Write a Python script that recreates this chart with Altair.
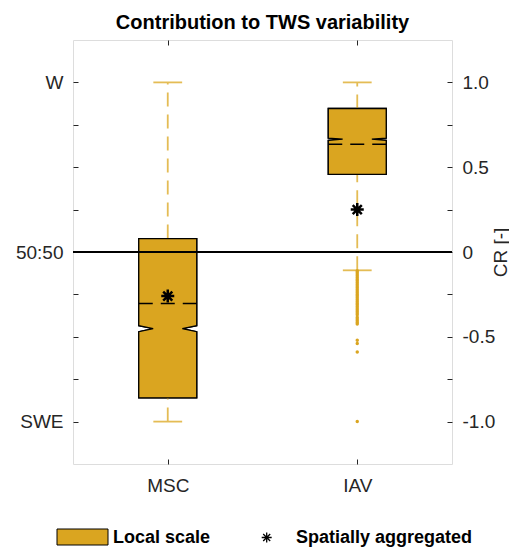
import altair as alt
import pandas as pd

# ---------------- data ----------------
categories = ["MSC", "IAV"]
positions = [1, 2]
q1 = [-0.860, 0.458]
q3 = [0.079, 0.846]
medians = [-0.452, 0.665]
notch_lo = [-0.470, 0.658]
notch_hi = [-0.434, 0.672]
means = [-0.303, 0.635]
whisker_lo = [-1.0, -0.108]
whisker_hi = [1.0, 1.0]
aggregated = [-0.26, 0.25]
outliers_iav = [-0.11, -0.12, -0.13, -0.14, -0.15, -0.16, -0.17, -0.18, -0.19, -0.20,
                -0.21, -0.22, -0.23, -0.24, -0.25, -0.26, -0.27, -0.28, -0.29, -0.30,
                -0.31, -0.32, -0.33, -0.34, -0.35, -0.36, -0.37,
                -0.385, -0.395, -0.405, -0.415, -0.425,
                -0.52, -0.54, -0.59, -1.0]

y_ticks = [-1.0, -0.75, -0.5, -0.25, 0.0, 0.25, 0.5, 0.75, 1.0]
left_labels = {1.0: "W", 0.0: "50:50", -1.0: "SWE"}
right_labels = {1.0: "1.0", 0.5: "0.5", 0.0: "0", -0.5: "-0.5", -1.0: "-1.0"}
legend_labels = ["Local scale", "Spatially aggregated"]
title_text = "Contribution to TWS variability"
y_title = "CR [-]"

# ---------------- style ----------------
GOLD = "#DAA520"
WHISK = "#E4BC55"
AXC = "#262626"
FONT = "Liberation Sans"
BOX_HW = 0.153
NOTCH_HW = 0.077
CAP_HW = 0.076
W, H = 379, 424
ASTER = "M-1,0L1,0M0,-1L0,1M-0.7,-0.7L0.7,0.7M-0.7,0.7L0.7,-0.7"
NEG_TICK = alt.ExprRef(expr="-5")


def label_expr(mapping):
    parts = []
    for v, t in mapping.items():
        parts.append(f"abs(datum.value - ({v})) < 1e-6 ? '{t}' : ")
    return "".join(parts) + "''"


cat_expr = "".join(f"datum.value == {p} ? '{c}' : " for p, c in zip(positions, categories)) + "''"

xscale = alt.Scale(domain=[0.5, 2.5], nice=False, zero=False)
yscale = alt.Scale(domain=[-1.25, 1.25], nice=False, zero=False)

# ---------------- tables ----------------
box_rows = []
for i, c in enumerate(categories):
    for yv, hw in [(q1[i], BOX_HW), (notch_lo[i], BOX_HW), (medians[i], NOTCH_HW),
                   (notch_hi[i], BOX_HW), (q3[i], BOX_HW)]:
        box_rows.append({"cat": c, "y": yv, "xl": positions[i] - hw, "xr": positions[i] + hw})
box_df = pd.DataFrame(box_rows)

stats = pd.DataFrame({
    "cat": categories, "pos": positions, "q1": q1, "q3": q3, "mean": means,
    "wlo": whisker_lo, "whi": whisker_hi, "agg": aggregated,
})
stats["bl"] = stats["pos"] - BOX_HW
stats["br"] = stats["pos"] + BOX_HW
stats["cl"] = stats["pos"] - CAP_HW
stats["cr"] = stats["pos"] + CAP_HW

caps = pd.concat([
    stats[["pos", "cl", "cr"]].assign(y=stats["wlo"]),
    stats[["pos", "cl", "cr"]].assign(y=stats["whi"]),
])
whisk = pd.concat([
    stats[["pos"]].assign(y=stats["q3"], y2=stats["whi"]),
    stats[["pos"]].assign(y=stats["wlo"], y2=stats["q1"]),
])
out_df = pd.DataFrame({"pos": positions[1], "y": outliers_iav})
zero_df = pd.DataFrame({"x0": [0.5], "x1": [2.5], "y": [0.0]})

# ---------------- axes ----------------
bottom_axis = alt.Axis(orient="bottom", values=positions, labelExpr=cat_expr, title=None,
                       tickSize=NEG_TICK, labelPadding=17, labelAngle=0, domain=False,
                       labelFontSize=19, labelFont=FONT, labelColor=AXC, tickColor=AXC, grid=False)
left_axis = alt.Axis(orient="left", values=y_ticks, labelExpr=label_expr(left_labels), title=None,
                     tickSize=NEG_TICK, labelPadding=15, domain=False,
                     labelFontSize=19, labelFont=FONT, labelColor=AXC, tickColor=AXC, grid=False)
top_axis = alt.Axis(orient="top", values=positions, labels=False, title=None,
                    tickSize=NEG_TICK, domain=False, tickColor=AXC, grid=False)
right_axis = alt.Axis(orient="right", values=y_ticks, labelExpr=label_expr(right_labels),
                      title=y_title, tickSize=NEG_TICK, labelPadding=15, domain=False,
                      labelFontSize=19, labelFont=FONT, labelColor=AXC, tickColor=AXC, grid=False,
                      titleFontSize=19, titleFont=FONT, titleFontWeight="normal", titleColor=AXC,
                      titleAngle=270, titleX=54, titleY=212, titleAlign="center",
                      titleBaseline="alphabetic")

# ---------------- layers ----------------
boxes = alt.Chart(box_df).mark_area(orient="horizontal", fill=GOLD, stroke="black",
                                    strokeWidth=1.3, interpolate="linear", opacity=1).encode(
    y=alt.Y("y:Q", scale=yscale, axis=left_axis),
    x=alt.X("xl:Q", scale=xscale, axis=bottom_axis, stack=None),
    x2="xr:Q",
    detail="cat:N",
)

whiskers = alt.Chart(whisk).mark_rule(color=WHISK, strokeWidth=1.8, strokeDash=[14, 8]).encode(
    x=alt.X("pos:Q", axis=None), y=alt.Y("y:Q", axis=None), y2="y2:Q")

cap_rules = alt.Chart(caps).mark_rule(color=WHISK, strokeWidth=1.8).encode(
    x=alt.X("cl:Q", axis=None), x2="cr:Q", y=alt.Y("y:Q", axis=None))

outliers = alt.Chart(out_df).mark_circle(color=GOLD, size=12, opacity=1).encode(
    x=alt.X("pos:Q", axis=None), y=alt.Y("y:Q", axis=None))

mean_rules = alt.Chart(stats).mark_rule(color="black", strokeWidth=1.5, strokeDash=[14, 8]).encode(
    x=alt.X("bl:Q", axis=None), x2="br:Q", y=alt.Y("mean:Q", axis=None))

zero_line = alt.Chart(zero_df).mark_rule(color="black", strokeWidth=2).encode(
    x=alt.X("x0:Q", axis=top_axis), x2="x1:Q", y=alt.Y("y:Q", axis=right_axis))

aster = alt.Chart(stats).mark_point(shape=ASTER, size=169, color="black", filled=False,
                                   strokeWidth=2.5, opacity=1).encode(
    x=alt.X("pos:Q", axis=None), y=alt.Y("agg:Q", axis=None))

# ---------------- legend (below the axes) ----------------
leg_df = pd.DataFrame({"label": legend_labels})
leg_swatch = alt.Chart(leg_df.iloc[[0]]).mark_rect(fill=GOLD, stroke="black", strokeWidth=1).encode(
    x=alt.value(-16), x2=alt.value(35), y=alt.value(489), y2=alt.value(505))
leg_text1 = alt.Chart(leg_df.iloc[[0]]).mark_text(align="left", baseline="alphabetic", font=FONT,
                                                  fontSize=18, fontWeight="bold", color="black").encode(
    x=alt.value(40), y=alt.value(503), text="label:N")
leg_aster = alt.Chart(leg_df.iloc[[1]]).mark_point(shape=ASTER, size=100, color="black", filled=False,
                                                   strokeWidth=1.3, opacity=1).encode(
    x=alt.value(193.7), y=alt.value(497.5))
leg_text2 = alt.Chart(leg_df.iloc[[1]]).mark_text(align="left", baseline="alphabetic", font=FONT,
                                                  fontSize=18, fontWeight="bold", color="black").encode(
    x=alt.value(223), y=alt.value(503), text="label:N")

chart = alt.layer(
    boxes, whiskers, cap_rules, outliers, boxes.encode(
        y=alt.Y("y:Q", scale=yscale, axis=None),
        x=alt.X("xl:Q", scale=xscale, axis=None, stack=None)),
    mean_rules, zero_line, aster,
    leg_swatch, leg_text1, leg_aster, leg_text2,
).resolve_axis(x="independent", y="independent").properties(
    width=W, height=H,
    autosize=alt.AutoSizeParams(type="none"),
    padding={"left": 73, "top": 40, "right": 57, "bottom": 83},
    title=alt.TitleParams(title_text, font=FONT, fontSize=20, fontWeight="bold", color="black",
                          anchor="middle", baseline="alphabetic", offset=-9),
).configure_view(stroke=AXC, strokeWidth=1.2).configure(background="white")

chart.save("out.html", embed_options={"renderer": "svg", "actions": False})
